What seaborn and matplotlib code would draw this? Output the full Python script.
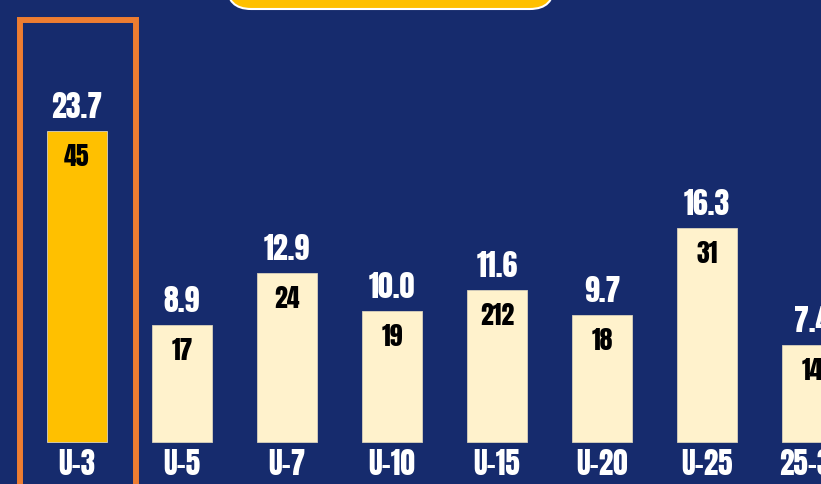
import matplotlib
matplotlib.use("Agg")
import matplotlib.pyplot as plt
from matplotlib.patches import FancyBboxPatch, Rectangle
from matplotlib.transforms import IdentityTransform
import seaborn as sns
import pandas as pd

# Data
categories = ["U-3", "U-5", "U-7", "U-10", "U-15", "U-20", "U-25", "25-30"]
percentages = [23.7, 8.9, 12.9, 10.0, 11.6, 9.7, 16.3, 7.4]
counts = [45, 17, 24, 19, 212, 18, 31, 14]

NAVY = "#162B6D"
GOLD = "#FFC000"
CREAM = "#FFF2CC"
ORANGE = "#ED7D31"
FONT = ["Anton", "DejaVu Sans"]

sns.set_theme(style="white")
plt.rcParams["font.family"] = FONT

df = pd.DataFrame({"group": categories, "pct": percentages, "n": counts})
bar_colors = {c: (GOLD if i == 0 else CREAM) for i, c in enumerate(categories)}

W, H = 821, 484
fig = plt.figure(figsize=(W / 100, H / 100), dpi=100, facecolor=NAVY)
ax = fig.add_axes([0, 0, 1, 1])
ax.set_facecolor(NAVY)

sns.barplot(data=df, x="group", y="pct", hue="group", palette=bar_colors,
            legend=False, width=0.571, edgecolor="#d9d2bd", linewidth=0.6,
            ax=ax, saturation=1)

ax.set_xlim(-0.733, 7.086)
ax.set_ylim(-3.2, 33.7)
ax.axis("off")

for i, (p, n, c) in enumerate(zip(percentages, counts, categories)):
    ax.annotate(f"{p:.1f}", (i, p), xytext=(0, 9.5), textcoords="offset points",
                ha="center", va="baseline", color="white", fontsize=21.5,
                family=FONT)
    ax.annotate(f"{n}", (i, p), xytext=(0, -25), textcoords="offset points",
                ha="center", va="baseline", color="black", fontsize=18.5,
                family=FONT)
    ax.text(i, -2.5, c, ha="center", va="baseline", color="white", fontsize=21,
            family=FONT)

# Highlight frame around the first group
frame = Rectangle((20, -20), 116, H, fill=False, edgecolor=ORANGE,
                  linewidth=4.3, zorder=5)
frame.set_transform(IdentityTransform())
fig.patches.append(frame)

# Title banner at the top edge
banner = FancyBboxPatch((227, H - 9), 327, 60,
                        boxstyle="round,pad=0,rounding_size=24",
                        facecolor=GOLD, edgecolor="white", linewidth=1.5, zorder=5)
banner.set_transform(IdentityTransform())
fig.patches.append(banner)

fig.savefig("out.png", dpi=100, facecolor=NAVY)
